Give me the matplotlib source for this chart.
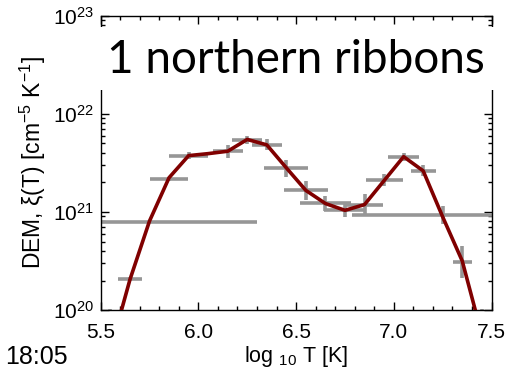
import numpy as np
import matplotlib
matplotlib.use("Agg")
import matplotlib.pyplot as plt
from matplotlib.patches import Rectangle
from matplotlib.ticker import MultipleLocator, LogLocator, NullFormatter

plt.rcParams['font.family'] = ['Liberation Sans', 'DejaVu Sans']
plt.rcParams['mathtext.fontset'] = 'custom'
plt.rcParams['mathtext.rm'] = 'Liberation Sans'
plt.rcParams['mathtext.it'] = 'Liberation Sans'

# regularised DEM solution on the temperature grid
logt = [5.55, 5.65, 5.75, 5.85, 5.95, 6.05, 6.15, 6.25, 6.35, 6.45,
        6.55, 6.65, 6.75, 6.85, 6.95, 7.05, 7.15, 7.25, 7.35, 7.45]
dem = [3.9e19, 2.05e20, 8.1e20, 2.24e21, 3.76e21, 3.94e21, 4.17e21, 5.5e21, 4.84e21, 2.82e21,
       1.66e21, 1.22e21, 1.04e21, 1.19e21, 2.09e21, 3.67e21, 2.63e21, 8.9e20, 3.16e20, 5.6e19]

# error bar points: centre in log T, half width in log T, value, error in decades
pt_t = [5.55, 5.65, 5.75, 5.85, 5.95, 6.15, 6.25, 6.35, 6.45, 6.55,
        6.65, 6.75, 6.85, 6.95, 7.05, 7.15, 7.25, 7.35, 7.45]
pt_terr = [0.05, 0.06, 0.55, 0.097, 0.10, 0.077, 0.077, 0.076, 0.112, 0.112,
           0.13, 0.105, 0.097, 0.095, 0.079, 0.064, 0.466, 0.049, 0.05]
pt_dem = [6.0e19, 2.05e20, 7.9e20, 2.18e21, 3.76e21, 4.16e21, 5.47e21, 4.83e21, 2.80e21, 1.66e21,
          1.23e21, 1.04e21, 1.19e21, 2.13e21, 3.67e21, 2.65e21, 9.4e20, 3.1e20, 6.0e19]
pt_derr = [0.23, 0.02, 0.01, 0.02, 0.034, 0.063, 0.042, 0.056, 0.085, 0.10,
           0.076, 0.065, 0.11, 0.06, 0.042, 0.06, 0.093, 0.16, 0.23]

xticks = [5.5, 6.0, 6.5, 7.0, 7.5]

fig = plt.figure(figsize=(5.11, 3.71), dpi=100)
ax = fig.add_axes([0.197, 0.1644, 0.765, 0.7925])

y = np.array(pt_dem)
e = np.array(pt_derr)
lo = y * (1 - 10 ** (-e))
hi = y * (10 ** e - 1)
ax.errorbar(pt_t, pt_dem, xerr=pt_terr, yerr=[lo, hi], fmt='none',
            ecolor='#969696', elinewidth=2.6, capsize=0, zorder=2)
ax.plot(logt, dem, color='#800000', lw=2.6, zorder=3)

ax.set_yscale('log')
ax.set_xlim(5.5, 7.5)
ax.set_ylim(1e20, 1e23)
ax.set_xticks(xticks)
ax.set_xticklabels(['%.1f' % v for v in xticks])
ax.xaxis.set_minor_locator(MultipleLocator(0.1))
ax.yaxis.set_major_locator(LogLocator(base=10, numticks=10))
ax.yaxis.set_minor_locator(LogLocator(base=10, subs=np.arange(2, 10), numticks=10))
ax.yaxis.set_minor_formatter(NullFormatter())
ax.yaxis.set_major_formatter(plt.FuncFormatter(lambda v, p: r'10$^{%d}$' % round(np.log10(v))))
ax.tick_params(which='both', direction='in', top=True, right=True, labelsize=15, width=1)
ax.tick_params(which='major', length=6)
ax.tick_params(which='minor', length=3)
ax.tick_params(axis='x', pad=9)
ax.tick_params(axis='y', pad=5)
for s in ax.spines.values():
    s.set_linewidth(1)

ax.set_ylabel(r'DEM, ξ(T) [cm$^{-5}$ K$^{-1}$]', fontsize=16.5, labelpad=3)
ax.set_xlabel(r'log $_{10}$ T [K]', fontsize=15.5, labelpad=2)

# white box behind the big title, covering the spines
fig.patches.append(Rectangle((95 / 511, 0.757), 410 / 511, 0.17, transform=fig.transFigure,
                             facecolor='white', edgecolor='none', zorder=5))
fig.text(0.579, 0.803, '1 northern ribbons', ha='center', va='baseline',
         fontsize=33, family='Lato', fontweight='normal', zorder=6)

fig.text(0.01, 0.005, '18:05', fontsize=18, ha='left', va='bottom')

fig.savefig('out.png', dpi=100)
